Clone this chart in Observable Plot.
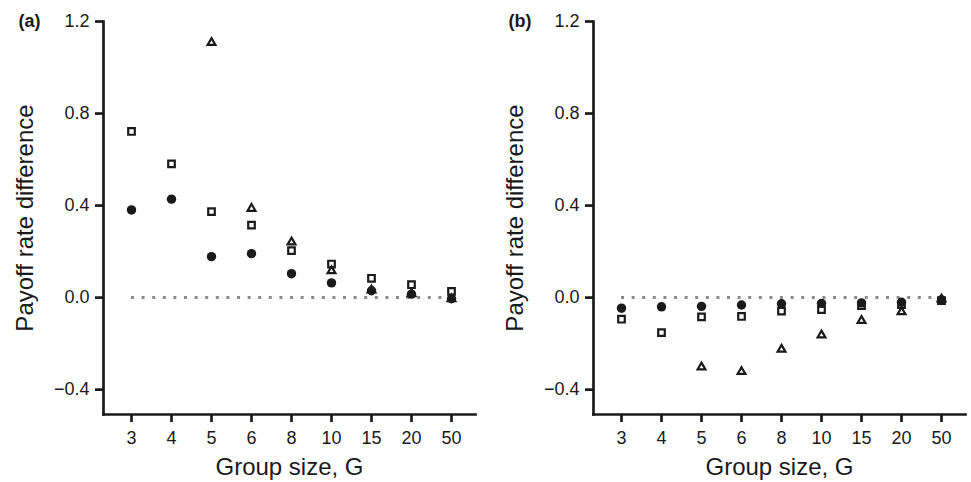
<!DOCTYPE html>
<html><head><meta charset="utf-8">
<script src="https://cdn.jsdelivr.net/npm/d3@7"></script>
<script src="https://cdn.jsdelivr.net/npm/@observablehq/plot@0.6"></script>
<style>
body{margin:0;background:#fff}
#wrap{display:flex;flex-direction:row;width:971px;height:482px;}
</style>
</head><body><div id="wrap"></div>
<script>
const groupSizes = ["3","4","5","6","8","10","15","20","50"];
const yTicks = [-0.4, 0, 0.4, 0.8, 1.2];
const panelTags = ["(a)", "(b)"];
const yTitle = "Payoff rate difference";
const xTitle = "Group size, G";

// Panel (a)
const aCircle   = [0.381, 0.428, 0.178, 0.191, 0.104, 0.064, 0.030, 0.015, -0.005];
const aSquare   = [0.722, 0.581, 0.374, 0.315, 0.204, 0.146, 0.084, 0.056, 0.027];
const aTriangle = [null, null, 1.108, 0.387, 0.241, 0.116, 0.032, 0.016, -0.006];
// Panel (b)
const bCircle   = [-0.046, -0.040, -0.038, -0.032, -0.027, -0.025, -0.023, -0.020, -0.010];
const bSquare   = [-0.094, -0.152, -0.084, -0.082, -0.059, -0.052, -0.035, -0.030, -0.013];
const bTriangle = [null, null, -0.302, -0.322, -0.225, -0.163, -0.100, -0.062, -0.007];

const INK = "#1a1a1a";
const FONT = "'Liberation Sans', Arial, Helvetica, sans-serif";

function rows(vals) {
  return groupSizes.map((g, i) => ({g, v: vals[i]})).filter(d => d.v != null);
}

function panel(tag, circ, sq, tri, width, marginRight) {
  return Plot.plot({
    width, height: 482,
    marginLeft: 103, marginRight, marginTop: 21, marginBottom: 68,
    style: {fontFamily: FONT, color: INK, background: "white", overflow: "visible"},
    x: {type: "point", domain: groupSizes, padding: 0.58, align: 0.53, axis: null},
    y: {domain: [-0.508, 1.2], axis: null},
    marks: [
      Plot.ruleY([0], {
        x1: () => groupSizes[0], x2: () => groupSizes[groupSizes.length - 1],
        stroke: "#8a8a8a", strokeWidth: 3, strokeDasharray: "3 7.6"
      }),
      Plot.frame({anchor: "left", stroke: INK, strokeWidth: 2.7, strokeLinecap: "square"}),
      Plot.frame({anchor: "bottom", stroke: INK, strokeWidth: 2.7, strokeLinecap: "square"}),
      Plot.axisY(yTicks, {tickSize: 8, tickPadding: 6, strokeWidth: 2.7, stroke: INK, fill: INK,
        fontSize: 18, tickFormat: d3.format(".1f"), label: null}),
      Plot.axisX(groupSizes, {tickSize: 8, tickPadding: 9, strokeWidth: 2.7, stroke: INK, fill: INK,
        fontSize: 18, label: null}),
      Plot.dot(rows(circ), {x: "g", y: "v", r: 4.7, symbol: "circle", fill: INK, stroke: "none"}),
      Plot.dot(rows(sq), {x: "g", y: "v", r: 3.7, symbol: "square", fill: "none", stroke: INK, strokeWidth: 2.2}),
      Plot.dot(rows(tri), {x: "g", y: "v", r: 2.9, symbol: "triangle", fill: "none", stroke: INK, strokeWidth: 2.2}),
      Plot.text([tag], {frameAnchor: "top-left", dx: -85, textAnchor: "start", lineAnchor: "middle",
        fontWeight: "bold", fontSize: 18, fill: INK}),
      Plot.text([yTitle], {frameAnchor: "left", textAnchor: "middle", dx: -78, rotate: -90, fontSize: 24, fill: INK}),
      Plot.text([xTitle], {frameAnchor: "bottom", textAnchor: "middle", dy: 60, fontSize: 24, fill: INK})
    ]
  });
}

const wrap = document.getElementById("wrap");
wrap.append(panel(panelTags[0], aCircle, aSquare, aTriangle, 490, 15));
wrap.append(panel(panelTags[1], bCircle, bSquare, bTriangle, 481, 6));
</script>
</body></html>
